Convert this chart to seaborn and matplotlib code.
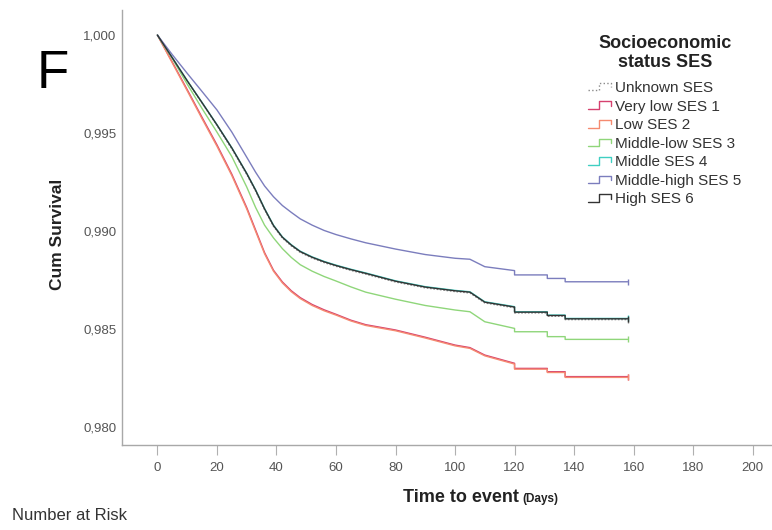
#!/usr/bin/env python3
"""Kaplan-Meier style survival curves by socioeconomic status (panel F)."""

import pandas as pd
import matplotlib
matplotlib.use('Agg')
import matplotlib.pyplot as plt
from matplotlib.lines import Line2D
from matplotlib.legend_handler import HandlerBase
import seaborn as sns

# ---- data ------------------------------------------------------------------
days = [0, 5, 10, 15, 20, 25, 30, 33, 36, 39, 42, 45, 48, 52, 56, 60, 65, 70,
        80, 90, 100, 105, 110, 120, 120, 131, 131, 137, 137, 158]

unknown_ses = [1.0, 0.99884, 0.99766, 0.99653, 0.99539, 0.99419, 0.99289,
               0.99204, 0.99109, 0.99024, 0.98964, 0.98924, 0.98891, 0.98862,
               0.98839, 0.98820, 0.98799, 0.98780, 0.98740, 0.98710, 0.98691,
               0.98684, 0.98633, 0.98608, 0.98582, 0.98582, 0.98565, 0.98565,
               0.98548, 0.98548]
very_low_ses1 = [1.0, 0.99862, 0.99722, 0.99580, 0.99440, 0.99290, 0.99120,
                 0.99005, 0.98890, 0.98800, 0.98740, 0.98695, 0.98660, 0.98625,
                 0.98598, 0.98575, 0.98545, 0.98522, 0.98495, 0.98458, 0.98418,
                 0.98405, 0.98367, 0.98325, 0.98299, 0.98299, 0.98282, 0.98282,
                 0.98257, 0.98257]
low_ses2 = [1.0, 0.99858, 0.99716, 0.99573, 0.99433, 0.99283, 0.99113,
            0.98998, 0.98884, 0.98795, 0.98735, 0.98690, 0.98655, 0.98620,
            0.98593, 0.98571, 0.98541, 0.98518, 0.98491, 0.98454, 0.98414,
            0.98401, 0.98363, 0.98321, 0.98295, 0.98295, 0.98278, 0.98278,
            0.98253, 0.98253]
middle_low_ses3 = [1.0, 0.99880, 0.99750, 0.99625, 0.99505, 0.99380, 0.99225,
                   0.99120, 0.99030, 0.98965, 0.98910, 0.98865, 0.98828,
                   0.98795, 0.98768, 0.98745, 0.98715, 0.98688, 0.98652,
                   0.98620, 0.98597, 0.98588, 0.98537, 0.98503, 0.98486,
                   0.98486, 0.98461, 0.98461, 0.98447, 0.98447]
middle_ses4 = [1.0, 0.99885, 0.99768, 0.99656, 0.99543, 0.99425, 0.99295,
               0.99210, 0.99115, 0.99030, 0.98970, 0.98930, 0.98897, 0.98868,
               0.98845, 0.98826, 0.98805, 0.98786, 0.98746, 0.98716, 0.98697,
               0.98690, 0.98639, 0.98614, 0.98588, 0.98588, 0.98571, 0.98571,
               0.98554, 0.98554]
middle_high_ses5 = [1.0, 0.99900, 0.99805, 0.99712, 0.99618, 0.99505, 0.99377,
                    0.99300, 0.99230, 0.99175, 0.99130, 0.99095, 0.99062,
                    0.99030, 0.99003, 0.98982, 0.98960, 0.98940, 0.98908,
                    0.98880, 0.98861, 0.98856, 0.98818, 0.98798, 0.98776,
                    0.98776, 0.98758, 0.98758, 0.98741, 0.98741]
high_ses6 = [1.0, 0.99884, 0.99767, 0.99655, 0.99542, 0.99424, 0.99294,
             0.99208, 0.99113, 0.99028, 0.98968, 0.98928, 0.98895, 0.98866,
             0.98843, 0.98824, 0.98803, 0.98784, 0.98744, 0.98714, 0.98695,
             0.98688, 0.98637, 0.98612, 0.98586, 0.98586, 0.98569, 0.98569,
             0.98552, 0.98552]

groups = ['Unknown SES', 'Very low SES 1', 'Low SES 2', 'Middle-low SES 3',
          'Middle SES 4', 'Middle-high SES 5', 'High SES 6']
series = [unknown_ses, very_low_ses1, low_ses2, middle_low_ses3,
          middle_ses4, middle_high_ses5, high_ses6]

x_ticks = [0, 20, 40, 60, 80, 100, 120, 140, 160, 180, 200]
y_ticks = [0.980, 0.985, 0.990, 0.995, 1.000]
y_tick_labels = ['0,980', '0,985', '0,990', '0,995', '1,000']

colors = {
    'Unknown SES': '#8a8a8a',
    'Very low SES 1': '#d6416f',
    'Low SES 2': '#f58a70',
    'Middle-low SES 3': '#8fd67a',
    'Middle SES 4': '#3fcfc2',
    'Middle-high SES 5': '#7b7dbd',
    'High SES 6': '#333333',
}
dashes = {g: '' for g in groups}
dashes['Unknown SES'] = (1.2, 1.2)

df = pd.concat([pd.DataFrame({'day': days, 'survival': vals, 'group': g})
                for g, vals in zip(groups, series)], ignore_index=True)

# ---- plot ------------------------------------------------------------------
sns.set_style('white')
plt.rcParams['font.family'] = ['Liberation Sans', 'DejaVu Sans']

fig = plt.figure(figsize=(7.72, 5.30), dpi=100)
ax = fig.add_axes([122 / 772, 85 / 530, 650 / 772, 435 / 530])

sns.lineplot(data=df, x='day', y='survival', hue='group', style='group',
             hue_order=groups, style_order=groups, palette=colors,
             dashes=dashes, estimator=None, sort=False, legend=False,
             linewidth=1.0, marker='|', markersize=5,
             markevery=[len(days) - 1], ax=ax)
# censor tick at the end of each curve in the line colour
for line in ax.lines:
    line.set_markeredgecolor(line.get_color())
    line.set_markeredgewidth(1.0)

ax.set_xlim(-11.9, 206.5)
ax.set_ylim(0.97908, 1.00128)
ax.set_xticks(x_ticks)
ax.set_xticklabels([str(t) for t in x_ticks])
ax.set_yticks(y_ticks)
ax.set_yticklabels(y_tick_labels)
ax.set_xlabel('')
ax.set_ylabel('')

sns.despine(ax=ax)
for side in ['left', 'bottom']:
    ax.spines[side].set_color('#a8a8a8')
    ax.spines[side].set_linewidth(1.0)
ax.tick_params(axis='x', bottom=True, direction='out', length=7, width=0.8,
               color='#b0b0b0', pad=5.5, labelsize=9.5, labelcolor='#555555')
ax.tick_params(axis='y', left=False, length=0, pad=4, labelsize=9.5,
               labelcolor='#555555')


class StepHandler(HandlerBase):
    def create_artists(self, legend, orig_handle, xdescent, ydescent,
                       width, height, fontsize, trans):
        x0, y0 = -xdescent, -ydescent
        xs = [x0, x0 + 0.45 * width, x0 + 0.45 * width,
              x0 + 0.95 * width, x0 + 0.95 * width]
        ys = [y0 + 0.15 * height, y0 + 0.15 * height, y0 + 0.85 * height,
              y0 + 0.85 * height, y0 + 0.45 * height]
        line = Line2D(xs, ys, color=orig_handle.get_color(),
                      linestyle=orig_handle.get_linestyle(), lw=1.0)
        line.set_transform(trans)
        return [line]


handles = [Line2D([], [], color=colors[g],
                  linestyle=':' if g == 'Unknown SES' else '-')
           for g in groups]
leg = fig.legend(handles, groups, handler_map={Line2D: StepHandler()},
                 loc='upper left', bbox_to_anchor=(588 / 772, 1 - 81 / 530),
                 frameon=False, fontsize=11, handlelength=1.6,
                 handletextpad=0.15, labelspacing=0.3, borderaxespad=0,
                 borderpad=0)
for t in leg.get_texts():
    t.set_color('#333333')

fig.text(665 / 772, 1 - 53 / 530, 'Socioeconomic\nstatus SES', ha='center',
         va='center', fontsize=13, fontweight='bold', color='#222222',
         linespacing=1.1)
fig.text(37 / 772, 1 - 88 / 530, 'F', fontsize=38, va='baseline',
         color='black')
fig.text(57 / 772, 1 - 234 / 530, 'Cum Survival', rotation=90,
         ha='center', va='center', fontsize=12.5, fontweight='bold',
         color='#222222')
fig.text(519 / 772, 1 - 502 / 530, 'Time to event', ha='right',
         va='baseline', fontsize=13, fontweight='bold', color='#222222')
fig.text(522 / 772, 1 - 502 / 530, '(Days)', ha='left', va='baseline',
         fontsize=8.5, fontweight='bold', color='#222222')
fig.text(12 / 772, 1 - 520 / 530, 'Number at Risk', ha='left',
         va='baseline', fontsize=12, color='#333333')

fig.savefig('out.png', dpi=100)
print("Saved: out.png")
